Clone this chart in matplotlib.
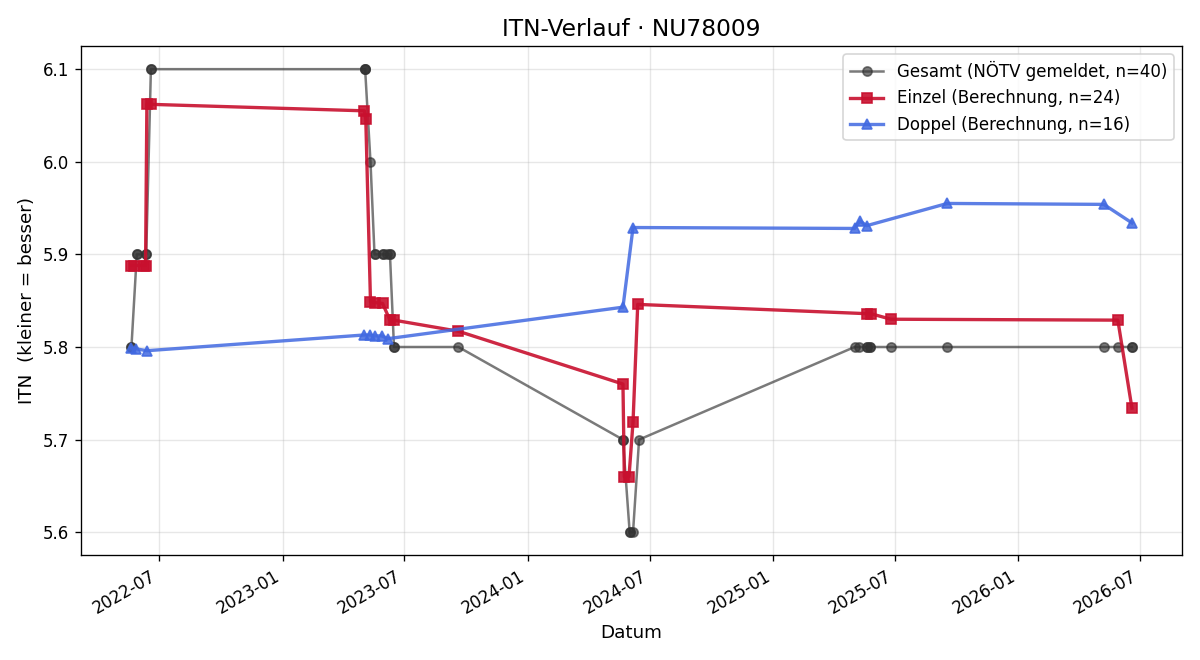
import pandas as pd
import matplotlib
matplotlib.use('Agg')
import matplotlib.pyplot as plt

# Gesamt (NÖTV gemeldet) - mehrere Meldungen pro Datum
gesamt_dates = ['2022-05-21', '2022-05-21', '2022-05-29', '2022-05-29', '2022-06-12', '2022-06-12',
                '2022-06-19', '2022-06-19',
                '2023-05-04', '2023-05-04', '2023-05-04', '2023-05-12', '2023-05-18', '2023-05-18',
                '2023-05-30', '2023-05-30', '2023-06-05', '2023-06-10', '2023-06-10',
                '2023-06-16', '2023-06-16', '2023-09-20',
                '2024-05-22', '2024-05-22', '2024-06-01', '2024-06-01', '2024-06-06', '2024-06-15',
                '2025-05-02', '2025-05-09', '2025-05-20', '2025-05-20', '2025-05-25', '2025-05-25',
                '2025-06-25', '2025-09-17',
                '2026-05-08', '2026-05-29', '2026-06-19', '2026-06-19']
gesamt_itn = [5.8, 5.8, 5.9, 5.9, 5.9, 5.9,
              6.1, 6.1,
              6.1, 6.1, 6.1, 6.0, 5.9, 5.9,
              5.9, 5.9, 5.9, 5.9, 5.9,
              5.8, 5.8, 5.8,
              5.7, 5.7, 5.6, 5.6, 5.6, 5.7,
              5.8, 5.8, 5.8, 5.8, 5.8, 5.8,
              5.8, 5.8,
              5.8, 5.8, 5.8, 5.8]

# Einzel (Berechnung)
einzel_dates = ['2022-05-20', '2022-05-25', '2022-06-09', '2022-06-11', '2022-06-13', '2022-06-19',
                '2023-05-03', '2023-05-05', '2023-05-12', '2023-05-18', '2023-05-30', '2023-06-10',
                '2023-06-16', '2023-09-20',
                '2024-05-22', '2024-05-24', '2024-05-31', '2024-06-06', '2024-06-13',
                '2025-05-20', '2025-05-26', '2025-06-25',
                '2026-05-29', '2026-06-19']
einzel_itn = [5.888, 5.888, 5.888, 5.888, 6.062, 6.062,
              6.055, 6.046, 5.849, 5.848, 5.847, 5.829,
              5.829, 5.817,
              5.760, 5.660, 5.660, 5.719, 5.846,
              5.836, 5.836, 5.830,
              5.829, 5.734]

# Doppel (Berechnung)
doppel_dates = ['2022-05-21', '2022-05-28', '2022-06-13',
                '2023-05-03', '2023-05-11', '2023-05-18', '2023-05-29', '2023-06-07',
                '2024-05-22', '2024-06-06',
                '2025-05-02', '2025-05-10', '2025-05-20', '2025-09-17',
                '2026-05-08', '2026-06-19']
doppel_itn = [5.799, 5.798, 5.796,
              5.813, 5.813, 5.812, 5.812, 5.809,
              5.843, 5.929,
              5.928, 5.936, 5.931, 5.955,
              5.954, 5.934]

fig, ax = plt.subplots(figsize=(10, 5.5), dpi=120)

ax.plot(pd.to_datetime(gesamt_dates), gesamt_itn, marker='o', ms=5.5, lw=1.5,
        color='#333333', alpha=0.65, label='Gesamt (NÖTV gemeldet, n=%d)' % len(gesamt_itn))
ax.plot(pd.to_datetime(einzel_dates), einzel_itn, marker='s', ms=6.5, lw=2,
        color='#c8102e', alpha=0.9, label='Einzel (Berechnung, n=%d)' % len(einzel_itn))
ax.plot(pd.to_datetime(doppel_dates), doppel_itn, marker='^', ms=6.5, lw=2,
        color='royalblue', alpha=0.85, label='Doppel (Berechnung, n=%d)' % len(doppel_itn))

ax.set_title('ITN-Verlauf · NU78009', fontsize=14)
ax.set_xlabel('Datum', fontsize=11)
ax.set_ylabel('ITN  (kleiner = besser)', fontsize=11)
ax.grid(True, alpha=0.3)
ax.legend(loc='upper right', fontsize=10)
fig.autofmt_xdate()

plt.tight_layout()
plt.savefig('out.png')
